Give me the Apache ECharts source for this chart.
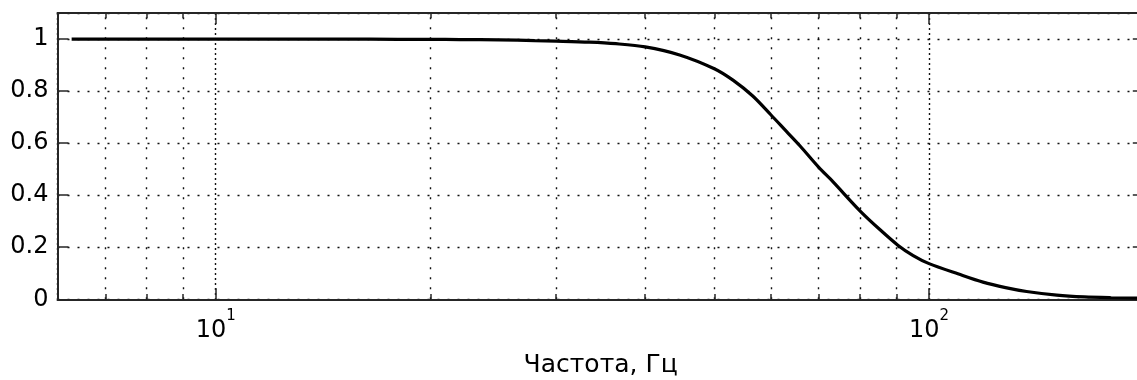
<!DOCTYPE html>
<html>
<head>
<meta charset="utf-8">
<script src="https://cdn.jsdelivr.net/npm/echarts@6/dist/echarts.min.js"></script>
<style>
html,body{margin:0;padding:0;background:#fff;}
#c{width:1137px;height:380px;}
</style>
</head>
<body>
<div id="c"></div>
<script>
// Frequency (Hz) and magnitude values
var freqs = [6.28, 8, 10, 12, 15, 18, 20, 22, 25, 28, 30, 33.4, 36.4, 40, 44.7, 50, 53.1, 56.6, 60, 63.1, 65.9, 70, 73.3, 80, 85.3, 90.5, 95, 100, 110, 119, 128, 137, 151, 165, 180, 200];
var magnitude = [1.0, 1.0, 1.0, 1.0, 1.0, 0.999, 0.999, 0.998, 0.997, 0.994, 0.992, 0.988, 0.982, 0.970, 0.939, 0.886, 0.842, 0.781, 0.709, 0.645, 0.590, 0.508, 0.452, 0.340, 0.268, 0.207, 0.168, 0.137, 0.097, 0.066, 0.045, 0.030, 0.016, 0.009, 0.006, 0.004];
// Axis ranges and tick values
var xMin = 6, xMax = 200;
var yMin = 0, yMax = 1.1, yStep = 0.2;
var minorGridX = [7, 8, 9, 20, 30, 40, 50, 60, 70, 80, 90];
var xAxisTitle = 'Частота, Гц';

var FONT = 'DejaVu Sans';
var AX = '#262626';
var chart = echarts.init(document.getElementById('c'));

function isPow10(v) {
  var l = Math.log10(v);
  return Math.abs(l - Math.round(l)) < 1e-6;
}

var minorGridData = minorGridX.map(function (x) { return { xAxis: x }; });
var minorTickData = [];
minorGridX.forEach(function (x) {
  minorTickData.push([{ coord: [x, yMin] }, { coord: [x, yMin + 0.02] }]);
  minorTickData.push([{ coord: [x, yMax] }, { coord: [x, yMax - 0.02] }]);
});

var option = {
  backgroundColor: '#fff',
  animation: false,
  grid: { left: 57.5, top: 13, width: 1086.3, height: 286.3, containLabel: false, outerBoundsMode: 'none' },
  xAxis: [{
    type: 'log', logBase: 10, min: xMin, max: xMax, position: 'bottom',
    axisLine: { show: true, onZero: false, lineStyle: { color: AX, width: 2 } },
    axisTick: { show: true, inside: true, length: 11, lineStyle: { color: AX, width: 1.5 } },
    splitLine: { show: true, lineStyle: { color: '#111', width: 1.4, type: [2, 3] } },
    axisLabel: {
      margin: 9, color: '#000', fontFamily: FONT,
      showMinLabel: true, showMaxLabel: true,
      formatter: function (v) {
        if (!isPow10(v)) return '';
        return '{b|10}{s|' + Math.round(Math.log10(v)) + '}';
      },
      rich: {
        b: { fontSize: 24, fontFamily: FONT, color: '#000', verticalAlign: 'bottom', lineHeight: 34 },
        s: { fontSize: 15, fontFamily: FONT, color: '#000', verticalAlign: 'top', lineHeight: 16 }
      }
    },
    name: xAxisTitle, nameLocation: 'middle', nameGap: 54,
    nameTextStyle: { fontSize: 25, fontFamily: FONT, color: '#000' }
  }, {
    type: 'log', logBase: 10, min: xMin, max: xMax, position: 'top',
    axisLine: { show: true, onZero: false, lineStyle: { color: AX, width: 2 } },
    axisTick: { show: true, inside: true, length: 11, lineStyle: { color: AX, width: 1.5 } },
    splitLine: { show: false },
    axisLabel: { show: false }
  }],
  yAxis: [{
    type: 'value', min: yMin, max: yMax, interval: yStep, position: 'left',
    axisLine: { show: true, onZero: false, lineStyle: { color: AX, width: 2 } },
    axisTick: { show: true, inside: true, length: 11, lineStyle: { color: AX, width: 1.5 } },
    splitLine: { show: true, lineStyle: { color: '#111', width: 1.4, type: [2, 8] } },
    axisLabel: {
      margin: 9, fontSize: 24, fontFamily: FONT, color: '#000',
      formatter: function (v) {
        if (v > 1.05) return '';
        return String(Math.round(v * 10) / 10);
      }
    }
  }, {
    type: 'value', min: yMin, max: yMax, interval: yStep, position: 'right',
    axisLine: { show: true, onZero: false, lineStyle: { color: AX, width: 2 } },
    axisTick: { show: true, inside: true, length: 11, lineStyle: { color: AX, width: 1.5 } },
    splitLine: { show: false },
    axisLabel: { show: false }
  }],
  series: [{
    type: 'line',
    xAxisIndex: 0, yAxisIndex: 0,
    data: freqs.map(function (f, i) { return [f, magnitude[i]]; }),
    showSymbol: false,
    smooth: 0.3,
    lineStyle: { color: '#000', width: 3.2 },
    z: 5,
    markLine: {
      silent: true, symbol: 'none', animation: false,
      label: { show: false },
      lineStyle: { color: '#111', width: 1.4, type: [2, 8] },
      data: minorGridData
    }
  }, {
    type: 'line',
    xAxisIndex: 0, yAxisIndex: 0,
    data: [],
    markLine: {
      silent: true, symbol: 'none', animation: false,
      label: { show: false },
      lineStyle: { color: AX, width: 1.5, type: 'solid' },
      data: minorTickData
    }
  }]
};
chart.setOption(option);
</script>
</body>
</html>
